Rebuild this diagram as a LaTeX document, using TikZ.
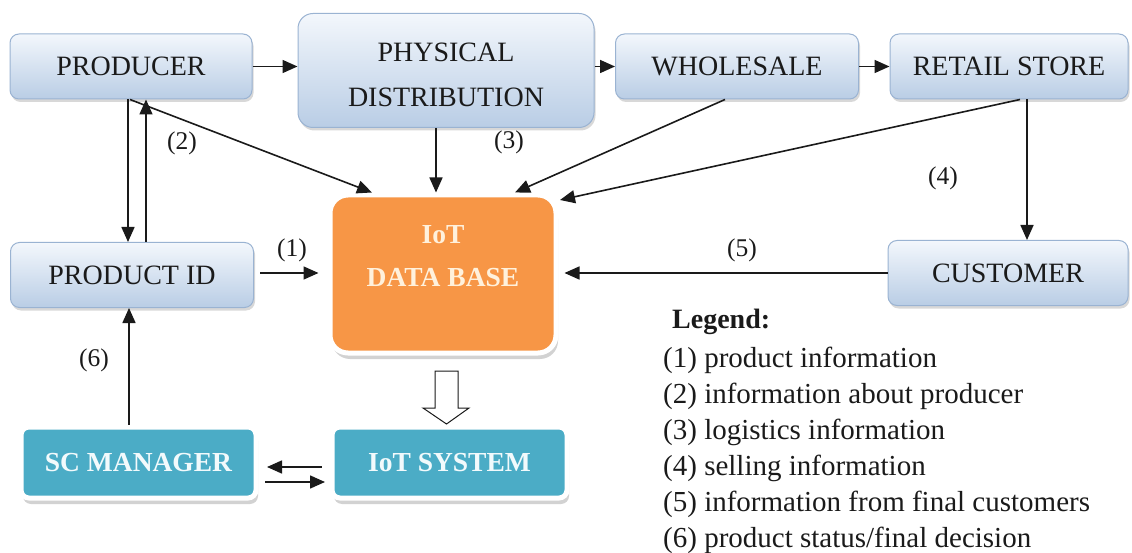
\documentclass[tikz,border=0pt]{standalone}
\usepackage{fontspec}
\setmainfont{Liberation Serif}
\usetikzlibrary{shadows,arrows.meta,calc}
\definecolor{bluetop}{HTML}{F3F7FC}
\definecolor{bluebot}{HTML}{B9CDE5}
\definecolor{blueedge}{HTML}{9AB3D2}
\definecolor{dborange}{HTML}{F79646}
\definecolor{dbtext}{HTML}{FFF1DC}
\definecolor{tealbox}{HTML}{4BACC6}
\definecolor{tealtext}{HTML}{F2FAFC}
\definecolor{ink}{HTML}{1A1A1A}
\tikzset{
  bluebox/.style={rounded corners=9pt, top color=bluetop, bottom color=bluebot,
    draw=blueedge, line width=1pt, text=ink, inner sep=0pt,
    font=\fontsize{28}{30}\selectfont,
    drop shadow={shadow xshift=1.5pt, shadow yshift=-3pt, opacity=0.3}},
  dbbox/.style={rounded corners=18pt, fill=dborange, draw=white, line width=5pt,
    inner sep=0pt,
    drop shadow={shadow xshift=2pt, shadow yshift=-6pt, opacity=0.35}},
  tealnode/.style={rounded corners=8pt, fill=tealbox, draw=white, line width=5pt,
    inner sep=0pt, text=tealtext, font=\fontsize{27.5}{30}\selectfont\bfseries,
    drop shadow={shadow xshift=2pt, shadow yshift=-6pt, opacity=0.35}},
  conn/.style={draw=ink, line width=1.6pt, -{Triangle[length=15pt,width=13pt]}},
  lbl/.style={text=ink, inner sep=0pt, font=\fontsize{25.5}{28}\selectfont},
  leg/.style={text=ink, inner sep=0pt, anchor=base west, font=\fontsize{29}{32}\selectfont},
}
\begin{document}
\begin{tikzpicture}[x=1pt,y=-1pt]
\useasboundingbox (0,0) rectangle (1132,553);
\fill[white] (0,0) rectangle (1132,553);

% boxes
\node[bluebox, minimum width=242pt, minimum height=65pt] (prod) at (131,66.5) {PRODUCER};
\node[bluebox, rounded corners=15pt, minimum width=296pt, minimum height=114pt] (phys) at (446,70.5)
  {\raisebox{-14pt}[0pt][0pt]{\begin{tabular}{@{}c@{}}PHYSICAL\\[15pt]DISTRIBUTION\end{tabular}}};
\node[bluebox, minimum width=243pt, minimum height=65pt] (whole) at (737,66.5) {WHOLESALE};
\node[bluebox, minimum width=238pt, minimum height=65pt] (retail) at (1009,66.5) {RETAIL STORE};
\node[bluebox, minimum width=243pt, minimum height=65pt] (pid) at (132,275) {PRODUCT ID};
\node[bluebox, minimum width=240pt, minimum height=65pt] (cust) at (1008,273) {CUSTOMER};
\node[dbbox, minimum width=226pt, minimum height=158pt] (db) at (443,274) {};
\node[text=dbtext, align=center, inner sep=0pt, font=\fontsize{27.5}{30}\selectfont\bfseries] (dblabel) at (443,256) {IoT\\[13pt]DATA BASE};
\node[tealnode, minimum width=235pt, minimum height=71pt] (sc) at (138.5,462.5) {SC MANAGER};
\node[tealnode, minimum width=235pt, minimum height=71pt] (iots) at (449.5,462.5) {IoT SYSTEM};

% connectors along the chain
\draw[conn] (prod.east) -- (prod.east -| phys.west);
\draw[conn] (phys.east |- whole.west) -- (whole.west);
\draw[conn] (whole.east) -- (retail.west);

% producer <-> product id
\draw[conn] ([xshift=-3pt]prod.south) -- ([xshift=-3pt]prod.south |- pid.north);
\draw[conn] ([xshift=15pt]prod.south |- pid.north) -- ([xshift=15pt]prod.south);

% into the data base
\draw[conn] ([xshift=-1pt]prod.south) -- ($(db.north west)+(44.5,0)$);
\draw[conn] ([xshift=-10pt]phys.south) -- ([xshift=-10pt]phys.south |- db.north);
\draw[conn] ([xshift=-12pt]whole.south) -- ($(db.north east)+(-43.5,0)$);
\draw[conn] ([xshift=11pt]retail.south) -- ($(db.north east)+(1.5,7.5)$);
\draw[conn] ([xshift=18pt]retail.south) -- ([xshift=18pt]retail.south |- cust.north);
\draw[conn] (cust.west) -- ($(cust.west -| db.east)+(6,0)$);
\draw[conn] ($(pid.east)+(6,-2)$) -- ($(pid.east -| db.west)+(-9,-2)$);

% bottom part
\draw[conn] ([xshift=-9.5pt]sc.north) -- ([xshift=-9.5pt]sc.north |- pid.south);
\draw[conn] ($(iots.west)+(-8,4.5)$) -- ($(sc.east)+(8.5,4.5)$);
\draw[conn] ($(sc.east)+(6.5,19.5)$) -- ($(iots.west)+(-4.5,19.5)$);

% hollow block arrow from data base to IoT system
\draw[draw=ink, fill=white, line width=1pt, line join=miter]
  (435,371) -- (458,371) -- (458,408) -- (469,408) -- (446.5,424) -- (423,408) -- (435,408) -- cycle;

% labels
\node[lbl] (l1) at (292,250) {(1)};
\node[lbl] (l2) at (182,143) {(2)};
\node[lbl] (l3) at (509,142) {(3)};
\node[lbl] (l4) at (943,178) {(4)};
\node[lbl] (l5) at (742,250) {(5)};
\node[lbl] (l6) at (94,360) {(6)};

% legend
\node[leg, font=\fontsize{28}{32}\selectfont\bfseries] (leg0) at (672,328) {Legend:};
\node[leg] (leg1) at (663,367) {(1) product information};
\node[leg] (leg2) at (663,403) {(2) information about producer};
\node[leg] (leg3) at (663,439) {(3) logistics information};
\node[leg] (leg4) at (663,475) {(4) selling information};
\node[leg] (leg5) at (663,511) {(5) information from final customers};
\node[leg] (leg6) at (663,547) {(6) product status/final decision};
\end{tikzpicture}
\end{document}
